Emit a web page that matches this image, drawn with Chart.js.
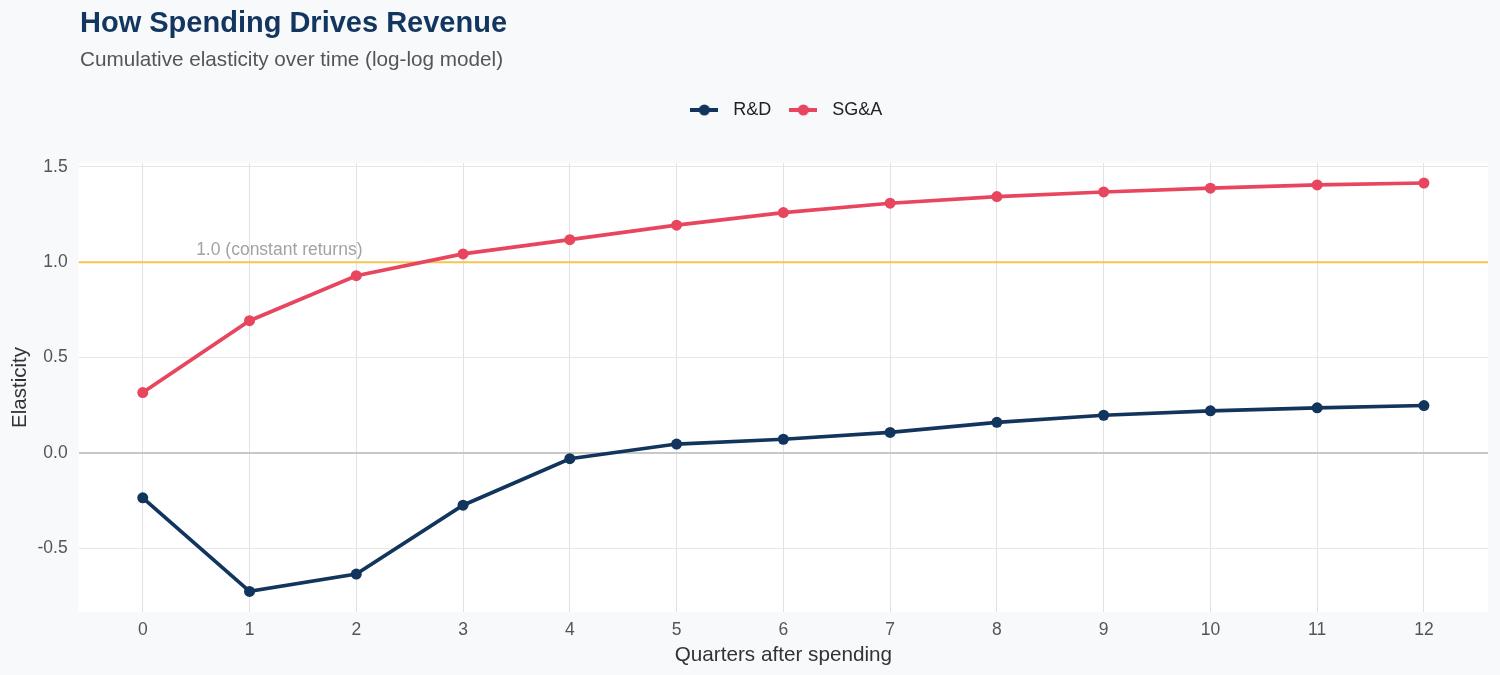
<!DOCTYPE html>
<html>
<head>
<meta charset="utf-8">
<script src="https://cdn.jsdelivr.net/npm/chart.js@4.4.1/dist/chart.umd.min.js"></script>
<style>
  html, body { margin: 0; padding: 0; background: #f8f9fb; }
  #wrap { position: relative; width: 1500px; height: 675px; font-family: "Liberation Sans", Arial, sans-serif; }
  #title { position: absolute; left: 80px; top: 8px; font-size: 29px; line-height: 29px; font-weight: bold; color: #12365f; white-space: nowrap; }
  #subtitle { position: absolute; left: 80px; top: 48px; font-size: 20.7px; line-height: 21px; color: #555; white-space: nowrap; }
  canvas { position: absolute; left: 0; top: 0; }
</style>
</head>
<body>
<div id="wrap">
  <canvas id="chart" width="1500" height="675"></canvas>
  <div id="title">How Spending Drives Revenue</div>
  <div id="subtitle">Cumulative elasticity over time (log-log model)</div>
</div>
<script>
// quarters after spending
const quarters = [0, 1, 2, 3, 4, 5, 6, 7, 8, 9, 10, 11, 12];
const rdElasticity = [-0.236, -0.727, -0.636, -0.275, -0.031, 0.046, 0.071, 0.107, 0.160, 0.197, 0.220, 0.236, 0.248];
const sgaElasticity = [0.316, 0.693, 0.929, 1.043, 1.118, 1.194, 1.260, 1.309, 1.344, 1.368, 1.388, 1.405, 1.415];
const yTicks = [-0.5, 0.0, 0.5, 1.0, 1.5];
const refValue = 1.0;
const refLabel = "1.0 (constant returns)";

const NAVY = "#12355e";
const RED = "#e8455f";
const FONT = "'Liberation Sans', Arial, sans-serif";

// legend marker: a short line with a dot in the middle
function legendMarker(color) {
  const c = document.createElement("canvas");
  c.width = 28; c.height = 14;
  const g = c.getContext("2d");
  g.strokeStyle = color; g.lineWidth = 4;
  g.beginPath(); g.moveTo(0, 7); g.lineTo(28, 7); g.stroke();
  g.fillStyle = color;
  g.beginPath(); g.arc(14, 7, 5.5, 0, Math.PI * 2); g.fill();
  return c;
}

const panelBg = {
  id: "panelBg",
  beforeInit(chart) {
    // leave a gap between the legend and the plot panel
    const lg = chart.legend;
    if (!lg) return;
    const fit = lg.fit.bind(lg);
    lg.fit = function () { fit(); this.height += 34; };
  },
  beforeDraw(chart) {
    const { ctx, chartArea: a } = chart;
    ctx.save();
    ctx.fillStyle = "#ffffff";
    ctx.fillRect(a.left, a.top, a.right - a.left, a.bottom - a.top);
    ctx.restore();
  }
};

// horizontal reference line at 1.0 plus its label
const refLine = {
  id: "refLine",
  beforeDatasetsDraw(chart) {
    const { ctx, chartArea: a, scales } = chart;
    const y = scales.y.getPixelForValue(refValue);
    ctx.save();
    ctx.strokeStyle = "#f5c550";
    ctx.lineWidth = 2;
    ctx.beginPath(); ctx.moveTo(a.left, y); ctx.lineTo(a.right, y); ctx.stroke();
    ctx.fillStyle = "#a3a3a3";
    ctx.font = "17.5px " + FONT;
    ctx.textBaseline = "middle";
    ctx.fillText(refLabel, scales.x.getPixelForValue(0.5), y - 12);
    ctx.restore();
  }
};

const data = {
  datasets: [
    {
      label: "R&D",
      data: quarters.map((q, i) => ({ x: q, y: rdElasticity[i] })),
      borderColor: NAVY,
      backgroundColor: NAVY,
      borderWidth: 3.7,
      pointRadius: 5.5,
      pointBorderWidth: 0,
      pointHoverRadius: 6,
      tension: 0
    },
    {
      label: "SG&A",
      data: quarters.map((q, i) => ({ x: q, y: sgaElasticity[i] })),
      borderColor: RED,
      backgroundColor: RED,
      borderWidth: 3.7,
      pointRadius: 5.5,
      pointBorderWidth: 0,
      pointHoverRadius: 6,
      tension: 0
    }
  ]
};

const markers = [legendMarker(NAVY), legendMarker(RED)];

new Chart(document.getElementById("chart"), {
  type: "line",
  data,
  plugins: [panelBg, refLine],
  options: {
    responsive: false,
    animation: false,
    layout: { padding: { top: 89, left: 8.5, right: 12, bottom: 7 } },
    plugins: {
      legend: {
        position: "top",
        fullSize: false,
        labels: {
          usePointStyle: true,
          pointStyleWidth: 40,
          color: "#222",
          font: { family: FONT, size: 18 },
          padding: 12,
          generateLabels(chart) {
            const items = Chart.defaults.plugins.legend.labels.generateLabels(chart);
            items.forEach((it, i) => { it.pointStyle = markers[i]; });
            return items;
          }
        }
      },
      tooltip: { enabled: false }
    },
    scales: {
      x: {
        type: "linear",
        min: -0.6,
        max: 12.6,
        border: { display: false },
        afterFit(scale) { scale.height = 56; },
        grid: { color: "#e2e2e2", lineWidth: 1, drawTicks: false },
        ticks: {
          stepSize: 1,
          includeBounds: false,
          color: "#555",
          font: { family: FONT, size: 17.5 },
          padding: 8,
          maxRotation: 0
        },
        title: {
          display: true,
          text: "Quarters after spending",
          color: "#333",
          font: { family: FONT, size: 20.7 },
          padding: { top: 2, bottom: 0 }
        }
      },
      y: {
        min: -0.835,
        max: 1.52,
        border: { display: false },
        afterFit(scale) { scale.width = 70.2; },
        afterBuildTicks(scale) {
          scale.ticks = yTicks.map(v => ({ value: v }));
        },
        grid: {
          color: ctx => (ctx.tick && ctx.tick.value === 0 ? "#c8c8c8" : "#e6e6e6"),
          lineWidth: ctx => (ctx.tick && ctx.tick.value === 0 ? 2 : 1),
          drawTicks: false
        },
        ticks: {
          color: "#555",
          font: { family: FONT, size: 17.5 },
          padding: 11,
          callback: v => Number(v).toFixed(1)
        },
        title: {
          display: true,
          text: "Elasticity",
          color: "#333",
          font: { family: FONT, size: 20.5 },
          padding: { top: 0, bottom: 6 }
        }
      }
    }
  }
});
</script>
</body>
</html>
